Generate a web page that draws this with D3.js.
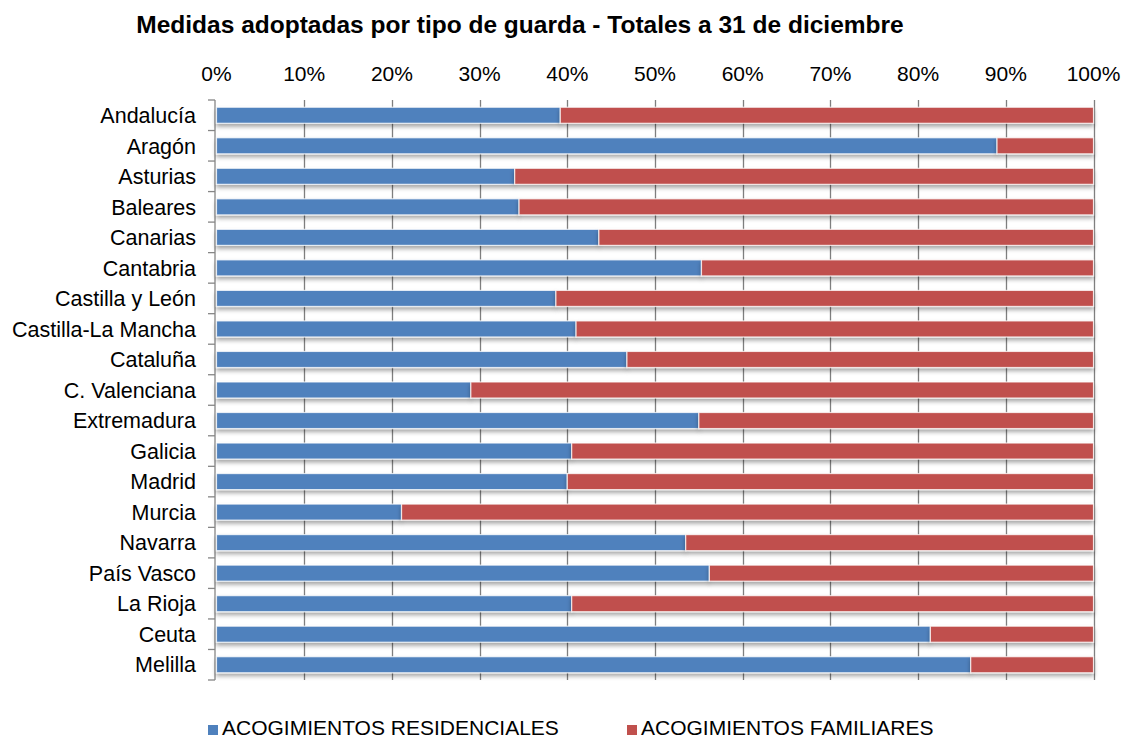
<!DOCTYPE html>
<html>
<head>
<meta charset="utf-8">
<script src="https://cdn.jsdelivr.net/npm/d3@7"></script>
<style>
  body { margin: 0; background: #fff; }
  svg { display: block; font-family: "Liberation Sans", Arial, sans-serif; }
</style>
</head>
<body>
<svg width="1126" height="740"></svg>
<script>
// Chart data (percent of total per region)
var regions = ["Andalucía", "Aragón", "Asturias", "Baleares", "Canarias", "Cantabria",
  "Castilla y León", "Castilla-La Mancha", "Cataluña", "C. Valenciana", "Extremadura",
  "Galicia", "Madrid", "Murcia", "Navarra", "País Vasco", "La Rioja", "Ceuta", "Melilla"];
var residenciales = [39.2, 89.0, 34.0, 34.5, 43.6, 55.3, 38.7, 41.0, 46.8, 29.0, 55.0,
  40.5, 40.0, 21.1, 53.5, 56.2, 40.5, 81.4, 86.0];
var familiares = [60.8, 11.0, 66.0, 65.5, 56.4, 44.7, 61.3, 59.0, 53.2, 71.0, 45.0,
  59.5, 60.0, 78.9, 46.5, 43.8, 59.5, 18.6, 14.0];
var seriesNames = ["ACOGIMIENTOS RESIDENCIALES", "ACOGIMIENTOS FAMILIARES"];
var seriesColors = ["#4F81BD", "#C0504D"];
var tickValues = [0, 10, 20, 30, 40, 50, 60, 70, 80, 90, 100];

var svg = d3.select('svg');

// drop shadow like the Excel bars
var defs = svg.append('defs');
var f = defs.append('filter').attr('id', 'shadow')
    .attr('x', '-5%').attr('y', '-40%').attr('width', '110%').attr('height', '200%');
f.append('feDropShadow').attr('dx', 0).attr('dy', 3).attr('stdDeviation', 2.2)
    .attr('flood-color', '#000').attr('flood-opacity', 0.35);

var plotLeft = 216.5, plotRight = 1093.5, plotTop = 100, plotBottom = 680;

var x = d3.scaleLinear().domain([0, 100]).range([plotLeft, plotRight]);
var y = d3.scaleBand().domain(regions).range([plotTop, plotBottom])
    .paddingInner(0.475).paddingOuter(0.2375);

// Title
svg.append('text')
    .attr('x', 520).attr('y', 33)
    .attr('text-anchor', 'middle')
    .style('font-weight', 'bold').style('font-size', '24.5px').attr('fill', '#000')
    .text('Medidas adoptadas por tipo de guarda - Totales a 31 de diciembre');

// Top tick labels
svg.append('g').selectAll('text').data(tickValues).enter().append('text')
    .attr('x', function(d) { return x(d); })
    .attr('y', 81)
    .attr('text-anchor', 'middle')
    .style('font-size', '21px').attr('fill', '#000')
    .text(function(d) { return d + '%'; });

// Vertical gridlines
svg.append('g').selectAll('line').data(tickValues.slice(1)).enter().append('line')
    .attr('x1', function(d) { return Math.round(x(d)) + 0.5; })
    .attr('x2', function(d) { return Math.round(x(d)) + 0.5; })
    .attr('y1', plotTop).attr('y2', plotBottom)
    .attr('stroke', '#7f7f7f').attr('stroke-width', 1.3);

// Left axis line + ticks between categories
var axisG = svg.append('g');
axisG.append('line').attr('x1', 215).attr('x2', 215).attr('y1', plotTop).attr('y2', plotBottom)
    .attr('stroke', '#868686').attr('stroke-width', 1.3);
var bounds = regions.map(function(r) { return y(r) - y.step() * y.paddingInner() / 2; });
bounds.push(plotBottom);
axisG.selectAll('line.tk').data(bounds).enter().append('line').attr('class', 'tk')
    .attr('x1', 208).attr('x2', 215)
    .attr('y1', function(d) { return d; }).attr('y2', function(d) { return d; })
    .attr('stroke', '#868686').attr('stroke-width', 1.3);

// Category labels
svg.append('g').selectAll('text').data(regions).enter().append('text')
    .attr('x', 196)
    .attr('y', function(d) { return y(d) + y.bandwidth() / 2; })
    .attr('dy', '0.36em')
    .attr('text-anchor', 'end')
    .style('font-size', '21.5px').attr('fill', '#000')
    .text(function(d) { return d; });

// Stacked bars
var rows = regions.map(function(r, i) {
    return { region: r, res: residenciales[i], fam: familiares[i] };
});
var stack = d3.stack().keys(['res', 'fam']);
var layers = stack(rows);

svg.append('g').selectAll('g').data(layers).enter().append('g')
    .attr('fill', function(d, i) { return seriesColors[i]; })
    .selectAll('rect').data(function(d) { return d; }).enter().append('rect')
    .attr('x', function(d) { return x(d[0]); })
    .attr('width', function(d) { return x(d[1]) - x(d[0]); })
    .attr('y', function(d) { return y(d.data.region); })
    .attr('height', y.bandwidth())
    .attr('stroke', '#fff').attr('stroke-opacity', 0.75).attr('stroke-width', 1.2)
    .attr('filter', 'url(#shadow)');

// Legend
var legend = svg.append('g');
var legendX = [208, 627];
seriesNames.forEach(function(name, i) {
    legend.append('rect')
        .attr('x', legendX[i]).attr('y', 725)
        .attr('width', 10).attr('height', 10)
        .attr('fill', seriesColors[i]);
    legend.append('text')
        .attr('x', legendX[i] + 14).attr('y', 735)
        .style('font-size', '21px').attr('fill', '#000')
        .text(name);
});
</script>
</body>
</html>
